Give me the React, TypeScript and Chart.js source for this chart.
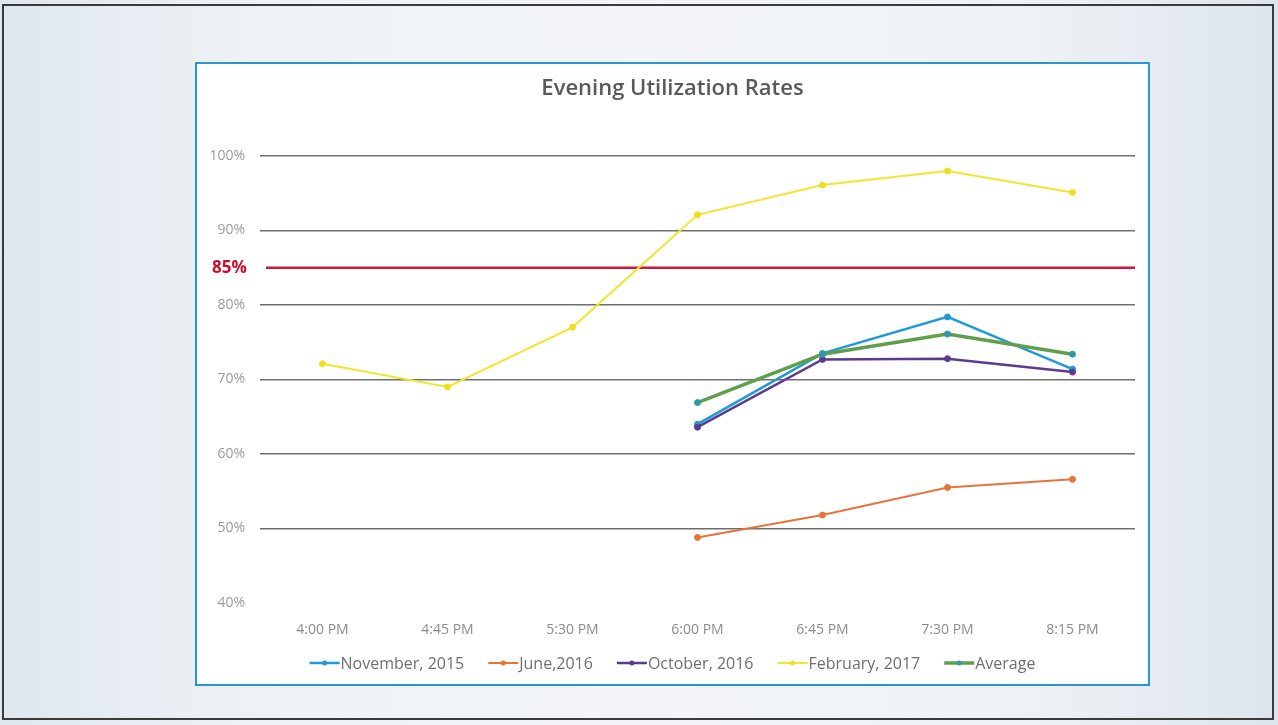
import React, { useEffect, useRef } from "react";
import { Chart, registerables } from "chart.js";
Chart.register(...registerables);

const categories = ["4:00 PM", "4:45 PM", "5:30 PM", "6:00 PM", "6:45 PM", "7:30 PM", "8:15 PM"];
const nov2015 = [null, null, null, 64.0, 73.5, 78.4, 71.4];
const jun2016 = [null, null, null, 48.8, 51.8, 55.5, 56.6];
const oct2016 = [null, null, null, 63.6, 72.7, 72.8, 71.0];
const feb2017 = [72.1, 69.0, 77.0, 92.1, 96.1, 98.0, 95.1];
const average = [null, null, null, 66.9, 73.4, 76.1, 73.4];
const seriesNames = ["November, 2015", "June,2016", "October, 2016", "February, 2017", "Average"];
const yMin = 40;
const yMax = 100;
const yStep = 10;
const targetValue = 85;
const targetLabel = "85%";
const chartTitle = "Evening Utilization Rates";

const FONT = "'Open Sans', 'Noto Sans', sans-serif";

export default function App() {
  const ref = useRef<HTMLCanvasElement | null>(null);

  useEffect(() => {
    if (!ref.current) return;
    const overlay = {
      id: "overlay",
      beforeDatasetsDraw(chart: any) {
        const { ctx, chartArea, scales } = chart;
        const y = scales.y.getPixelForValue(targetValue);
        ctx.save();
        ctx.strokeStyle = "#d0173a";
        ctx.lineWidth = 2.5;
        ctx.beginPath();
        ctx.moveTo(chartArea.left + 6, y);
        ctx.lineTo(chartArea.right, y);
        ctx.stroke();
        ctx.fillStyle = "#c8102e";
        ctx.font = `bold 17px ${FONT}`;
        ctx.textAlign = "left";
        ctx.textBaseline = "middle";
        ctx.fillText(targetLabel, 15, y);
        ctx.restore();
      },
      afterDraw(chart: any) {
        const { ctx, width } = chart;
        ctx.save();
        // title
        ctx.fillStyle = "#595959";
        ctx.font = `600 22px ${FONT}`;
        ctx.textAlign = "center";
        ctx.textBaseline = "middle";
        ctx.fillText(chartTitle, width / 2, 25);
        // legend
        ctx.font = `16px ${FONT}`;
        ctx.textBaseline = "middle";
        ctx.textAlign = "left";
        const markerW = 30;
        const gap = 24;
        const items = chart.data.datasets.map((d: any) => ({
          label: d.label,
          color: d.borderColor,
          pcolor: d.pointBackgroundColor,
          lw: d.borderWidth,
          w: markerW + 1 + ctx.measureText(d.label).width,
        }));
        const total = items.reduce((s: number, it: any) => s + it.w, 0) + gap * (items.length - 1);
        let x = width / 2 - total / 2;
        const y = 599;
        for (const it of items) {
          ctx.strokeStyle = it.color;
          ctx.lineWidth = it.lw;
          ctx.beginPath();
          ctx.moveTo(x, y);
          ctx.lineTo(x + markerW, y);
          ctx.stroke();
          ctx.fillStyle = it.pcolor;
          ctx.beginPath();
          ctx.arc(x + markerW / 2, y, 2.5, 0, Math.PI * 2);
          ctx.fill();
          ctx.fillStyle = "#6f6f6f";
          ctx.fillText(it.label, x + markerW + 1, y + 1);
          x += it.w + gap;
        }
        ctx.restore();
      },
    };

    const mk = (label: string, data: any[], color: string, pcolor: string, bw: number, order: number) => ({
      label,
      data,
      borderColor: color,
      backgroundColor: pcolor,
      pointBackgroundColor: pcolor,
      pointBorderColor: pcolor,
      borderWidth: bw,
      pointRadius: 3,
      pointBorderWidth: 1,
      tension: 0,
      spanGaps: false,
      order,
    });

    const chart = new Chart(ref.current, {
      type: "line",
      data: {
        labels: categories,
        datasets: [
          mk(seriesNames[0], nov2015, "#1e9bd7", "#1e9bd7", 2.5, 5),
          mk(seriesNames[1], jun2016, "#e8733a", "#e8733a", 2, 4),
          mk(seriesNames[2], oct2016, "#5c3b8f", "#5c3b8f", 2.5, 3),
          mk(seriesNames[3], feb2017, "#f3e52d", "#f0df1f", 2, 2),
          mk(seriesNames[4], average, "#5f9f4c", "#2e9aa6", 3.5, 1),
        ],
      },
      options: {
        animation: false,
        responsive: false,
        maintainAspectRatio: false,
        layout: { padding: { left: 0, right: 13, top: 92, bottom: 0 } },
        plugins: { legend: { display: false }, title: { display: false }, tooltip: { enabled: false } },
        scales: {
          x: {
            offset: true,
            grid: { display: false, drawTicks: false },
            border: { display: false },
            ticks: { color: "#8c8c8c", font: { family: FONT, size: 14 }, padding: 19, maxRotation: 0 },
            afterFit(s: any) { s.height = 81; },
          },
          y: {
            min: yMin,
            max: yMax,
            ticks: {
              stepSize: yStep,
              color: "#9a9a9a",
              font: { family: FONT, size: 14 },
              padding: 15,
              callback: (v: any) => `${v}%`,
            },
            grid: {
              drawTicks: false,
              color: (c: any) => (c.tick && c.tick.value === yMin ? "rgba(0,0,0,0)" : "#6e6e6e"),
              lineWidth: 1.5,
            },
            border: { display: false },
            afterFit(s: any) { s.width = 63; },
          },
        },
      },
      plugins: [overlay],
    } as any);
    return () => chart.destroy();
  }, []);

  return (
    <div
      style={{
        position: "fixed",
        left: 0,
        top: 0,
        width: 1278,
        height: 725,
        background: "linear-gradient(90deg, #dfe7ee 0%, #eef2f6 20%, #f3f5f8 50%, #eef2f6 80%, #dde5ec 100%)",
        overflow: "hidden",
      }}
    >
      <div
        style={{
          position: "absolute",
          left: 2,
          top: 4,
          width: 1272,
          height: 716,
          border: "2px solid #3a3a3a",
          boxSizing: "border-box",
        }}
      />
      <div
        style={{
          position: "absolute",
          left: 195,
          top: 62,
          width: 955,
          height: 624,
          border: "2px solid #2a96d0",
          background: "#ffffff",
          boxSizing: "border-box",
        }}
      >
        <canvas ref={ref} width={951} height={620} style={{ display: "block", width: 951, height: 620 }} />
      </div>
    </div>
  );
}
